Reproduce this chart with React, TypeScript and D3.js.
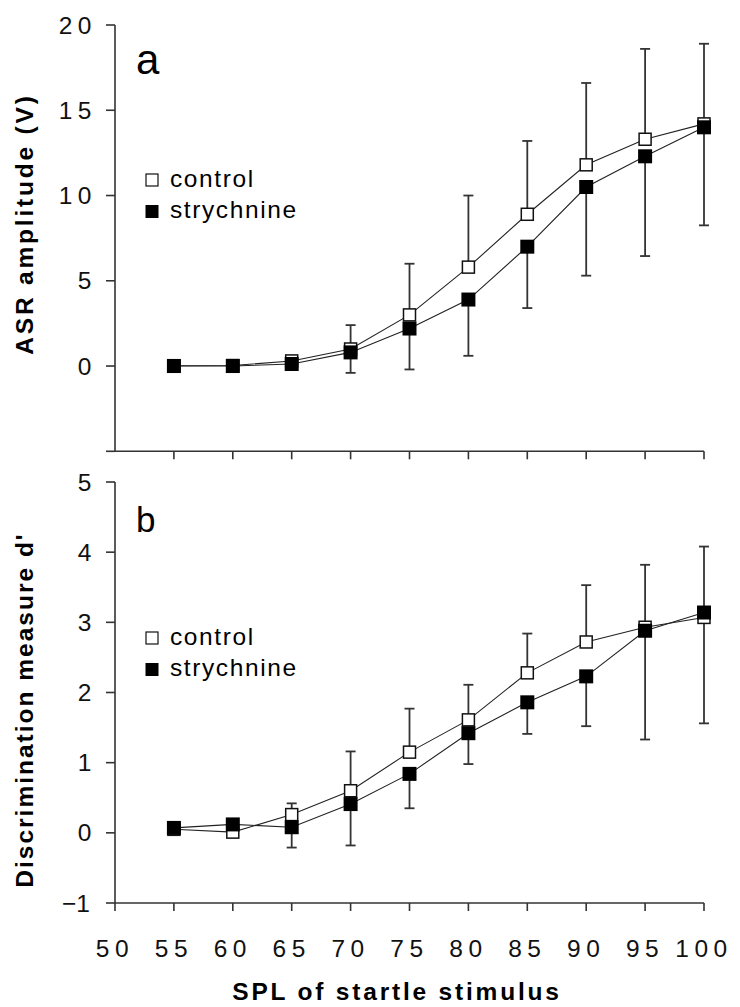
import React from "react";
import * as d3 from "d3";

// Stimulus levels (dB SPL)
const SPL = [55, 60, 65, 70, 75, 80, 85, 90, 95, 100];
const X_TICKS = [50, 55, 60, 65, 70, 75, 80, 85, 90, 95, 100];

// Panel a: ASR amplitude (V), mean and SEM
const asrControl = [0.02, 0.03, 0.3, 1.0, 3.0, 5.8, 8.9, 11.8, 13.3, 14.2];
const asrControlSem = [0.05, 0.05, 0.2, 1.4, 3.0, 4.2, 4.3, 4.8, 5.3, 4.7];
const asrStrychnine = [0.0, 0.0, 0.12, 0.8, 2.2, 3.9, 7.0, 10.5, 12.3, 14.0];
const asrStrychnineSem = [0.05, 0.05, 0.2, 1.2, 2.4, 3.3, 3.6, 5.2, 5.85, 5.75];
const ASR_TICKS = [-5, 0, 5, 10, 15, 20];
const ASR_LABELS = [0, 5, 10, 15, 20];

// Panel b: discrimination measure d', mean and SEM
const dControl = [0.05, 0.01, 0.26, 0.6, 1.15, 1.61, 2.28, 2.72, 2.93, 3.07];
const dControlSem = [0.03, 0.03, 0.16, 0.56, 0.62, 0.5, 0.56, 0.81, 0.89, 1.01];
const dStrychnine = [0.07, 0.12, 0.08, 0.41, 0.84, 1.42, 1.86, 2.23, 2.88, 3.14];
const dStrychnineSem = [0.03, 0.03, 0.29, 0.59, 0.49, 0.44, 0.45, 0.71, 1.55, 1.58];
const D_TICKS = [-1, 0, 1, 2, 3, 4, 5];
const D_LABELS = [-1, 0, 1, 2, 3, 4, 5];

const FONT = "'Liberation Sans', Arial, Helvetica, sans-serif";
const AXIS = "#333";
const TICK_LEN = 9;

const x = d3.scaleLinear().domain([50, 100]).range([115, 704]);

type PanelProps = {
  y: d3.ScaleLinear<number, number>;
  ticks: number[];
  labels: number[];
  control: number[];
  controlSem: number[];
  strych: number[];
  strychSem: number[];
  letter: string;
  letterSize: number;
  letterY: number;
  legendY: number;
  xTickValues: number[];
  showXLabels: boolean;
};

function Panel(p: PanelProps) {
  const [y0, y1] = p.y.domain();
  const yBottom = p.y(y0);
  const yTop = p.y(y1);
  const line = d3
    .line<number>()
    .x((_, i) => x(SPL[i]))
    .y((v) => p.y(v));
  const half = 5;
  return (
    <g>
      {/* axes */}
      <line x1={x(50)} x2={x(50)} y1={yTop} y2={yBottom} stroke={AXIS} strokeWidth={1.6} />
      <line x1={x(50)} x2={x(100)} y1={yBottom} y2={yBottom} stroke={AXIS} strokeWidth={1.6} />
      {p.ticks.map((t) => (
        <line key={"yt" + t} x1={x(50) - TICK_LEN} x2={x(50)} y1={p.y(t)} y2={p.y(t)} stroke={AXIS} strokeWidth={1.6} />
      ))}
      {p.labels.map((t) =>
        t < 0 ? (
          <text
            key={"yl" + t}
            x={90}
            y={p.y(t)}
            dy="0.35em"
            textAnchor="end"
            fontFamily={FONT}
            fontSize={24.5}
            fill="#111"
          >
            {"\u2212" + Math.abs(t)}
          </text>
        ) : (
          <text
            key={"yl" + t}
            x={97}
            y={p.y(t)}
            dy="0.35em"
            textAnchor="end"
            fontFamily={FONT}
            fontSize={24.5}
            style={{ letterSpacing: "5.5px" }}
            fill="#111"
          >
            {String(t)}
          </text>
        )
      )}
      {p.xTickValues.map((t) => (
        <line key={"xt" + t} x1={x(t)} x2={x(t)} y1={yBottom} y2={yBottom + 8} stroke={AXIS} strokeWidth={1.6} />
      ))}
      {p.showXLabels &&
        X_TICKS.map((t) => (
          <text
            key={"xl" + t}
            x={x(t)}
            y={957}
            textAnchor="middle"
            fontFamily={FONT}
            fontSize={24.5}
            style={{ letterSpacing: "5.5px" }}
            fill="#111"
          >
            {t}
          </text>
        ))}

      {/* connecting lines */}
      <path d={line(p.control) || ""} fill="none" stroke="#222" strokeWidth={1.1} />
      <path d={line(p.strych) || ""} fill="none" stroke="#222" strokeWidth={1.1} />

      {/* error bars: control upward, strychnine downward */}
      {SPL.map((s, i) => {
        const cx = x(s);
        const yc = p.y(p.control[i]);
        const ye = p.y(p.control[i] + p.controlSem[i]);
        return (
          <g key={"ec" + s}>
            <line x1={cx} x2={cx} y1={yc} y2={ye} stroke={AXIS} strokeWidth={1.8} />
            <line x1={cx - half} x2={cx + half} y1={ye} y2={ye} stroke={AXIS} strokeWidth={1.8} />
          </g>
        );
      })}
      {SPL.map((s, i) => {
        const cx = x(s);
        const yc = p.y(p.strych[i]);
        const ye = p.y(p.strych[i] - p.strychSem[i]);
        return (
          <g key={"es" + s}>
            <line x1={cx} x2={cx} y1={yc} y2={ye} stroke={AXIS} strokeWidth={1.8} />
            <line x1={cx - half} x2={cx + half} y1={ye} y2={ye} stroke={AXIS} strokeWidth={1.8} />
          </g>
        );
      })}

      {/* markers */}
      {SPL.map((s, i) => (
        <rect
          key={"mc" + s}
          x={x(s) - 6}
          y={p.y(p.control[i]) - 6}
          width={12}
          height={12}
          fill="#fff"
          stroke="#111"
          strokeWidth={1.5}
        />
      ))}
      {SPL.map((s, i) => (
        <rect key={"ms" + s} x={x(s) - 7} y={p.y(p.strych[i]) - 7} width={14} height={14} fill="#000" />
      ))}

      {/* panel letter */}
      <text x={136} y={p.letterY} fontFamily={FONT} fontSize={p.letterSize} fill="#000">
        {p.letter}
      </text>

      {/* legend */}
      <rect x={146} y={p.legendY - 6} width={12} height={12} fill="#fff" stroke="#111" strokeWidth={1.2} />
      <text x={170} y={p.legendY + 7} fontFamily={FONT} fontSize={24.5} style={{ letterSpacing: "1.6px" }} fill="#000">
        control
      </text>
      <rect x={145.5} y={p.legendY + 25} width={13} height={13} fill="#000" />
      <text x={170} y={p.legendY + 38} fontFamily={FONT} fontSize={24.5} style={{ letterSpacing: "1.6px" }} fill="#000">
        strychnine
      </text>
    </g>
  );
}

export default function App() {
  const yA = d3.scaleLinear().domain([-5, 20]).range([451.3, 25]);
  const yB = d3.scaleLinear().domain([-1, 5]).range([903, 482]);
  return (
    <svg
      width={740}
      height={1007}
      viewBox="0 0 740 1007"
      style={{ position: "absolute", left: 0, top: 0, background: "#fff" }}
    >
      <rect x={0} y={0} width={740} height={1007} fill="#fff" />
      <Panel
        y={yA}
        ticks={ASR_TICKS}
        labels={ASR_LABELS}
        control={asrControl}
        controlSem={asrControlSem}
        strych={asrStrychnine}
        strychSem={asrStrychnineSem}
        letter="a"
        letterSize={42}
        letterY={74}
        legendY={180}
        xTickValues={SPL}
        showXLabels={false}
      />
      <Panel
        y={yB}
        ticks={D_TICKS}
        labels={D_LABELS}
        control={dControl}
        controlSem={dControlSem}
        strych={dStrychnine}
        strychSem={dStrychnineSem}
        letter="b"
        letterSize={35}
        letterY={532}
        legendY={638}
        xTickValues={X_TICKS}
        showXLabels={true}
      />
      {/* axis titles */}
      <text
        x={397}
        y={1000}
        textAnchor="middle"
        fontFamily={FONT}
        fontWeight="bold"
        fontSize={24.5}
        style={{ letterSpacing: "2.8px" }}
        fill="#000"
      >
        SPL of startle stimulus
      </text>
      <text
        transform="translate(33,224) rotate(-90)"
        textAnchor="middle"
        fontFamily={FONT}
        fontWeight="bold"
        fontSize={24.5}
        style={{ letterSpacing: "2.8px" }}
        fill="#000"
      >
        ASR amplitude (V)
      </text>
      <text
        transform="translate(33,710) rotate(-90)"
        textAnchor="middle"
        fontFamily={FONT}
        fontWeight="bold"
        fontSize={24.5}
        style={{ letterSpacing: "2px" }}
        fill="#000"
      >
        Discrimination measure d'
      </text>
    </svg>
  );
}
